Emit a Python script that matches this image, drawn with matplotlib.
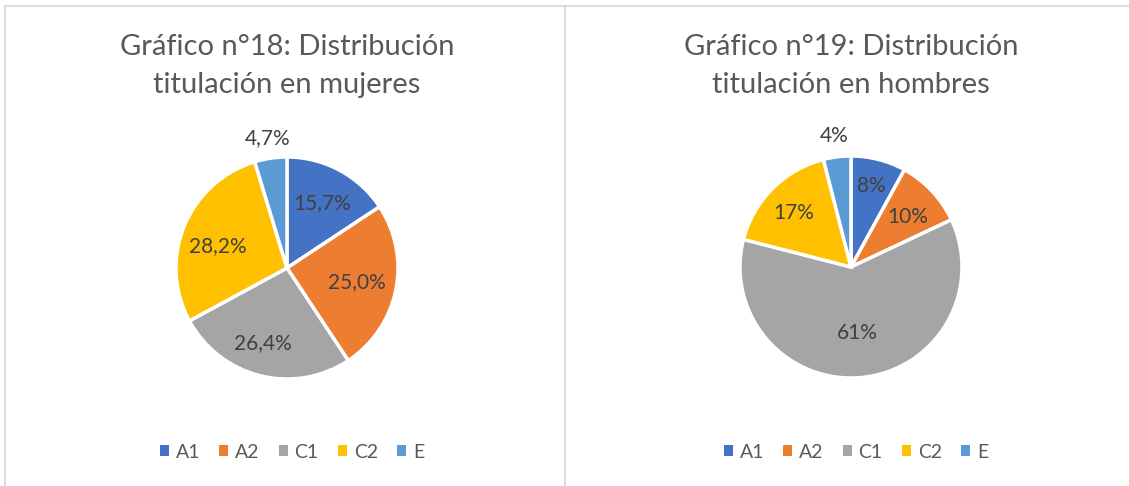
import matplotlib
matplotlib.use("Agg")
import matplotlib.pyplot as plt
from matplotlib.patches import Patch
from matplotlib.lines import Line2D
import numpy as np

categories = ["A1", "A2", "C1", "C2", "E"]
mujeres = [15.7, 25.0, 26.4, 28.2, 4.7]
hombres = [8, 10, 61, 17, 4]
mujeres_labels = ["15,7%", "25,0%", "26,4%", "28,2%", "4,7%"]
hombres_labels = ["8%", "10%", "61%", "17%", "4%"]
title_left = ["Gráfico n°18: Distribución", "titulación en mujeres"]
title_right = ["Gráfico n°19: Distribución", "titulación en hombres"]

colors = ["#4472C4", "#ED7D31", "#A5A5A5", "#FFC000", "#5B9BD5"]
TEXT = "#595959"
LABEL = "#404040"
FONT = "Lato"

W, H = 1129, 486
fig = plt.figure(figsize=(W / 100, H / 100), dpi=100)
fig.patch.set_facecolor("white")

def px(x, y):
    return x / W, 1 - y / H

# borders
bc = "#D9D9D9"
for (x0, y0, x1, y1) in [(5, 6, 1129, 6), (5, 6, 5, 486), (565, 6, 565, 486)]:
    a, b = px(x0, y0)
    c, d = px(x1, y1)
    fig.add_artist(Line2D([a, c], [b, d], color=bc, lw=1.3))

def draw(cx, cy, r, values, labels, dists, shifts, title, legx):
    ext = 1.35
    size = 2 * r * ext
    ax = fig.add_axes([(cx - size / 2) / W, 1 - (cy + size / 2) / H, size / W, size / H])
    wedges, _ = ax.pie(values, colors=colors, startangle=90, counterclock=False,
                       wedgeprops=dict(edgecolor="white", linewidth=2.5))
    ax.set_xlim(-ext, ext)
    ax.set_ylim(-ext, ext)
    ax.set_aspect("equal")
    ax.axis("off")
    for w, lab, d, s in zip(wedges, labels, dists, shifts):
        ang = np.deg2rad((w.theta1 + w.theta2) / 2 + s)
        ax.text(d * np.cos(ang), d * np.sin(ang), lab, ha="center", va="center",
                fontsize=15, color=LABEL, family=FONT)
    tx = px(legx, 0)[0]
    fig.text(px(cx, 0)[0], px(0, 47)[1], title[0], ha="center", va="center",
             fontsize=21, color=TEXT, family=FONT)
    fig.text(px(cx, 0)[0], px(0, 85)[1], title[1], ha="center", va="center",
             fontsize=21, color=TEXT, family=FONT)
    handles = [Patch(facecolor=c, edgecolor="none") for c in colors]
    fig.legend(handles, categories, loc="center", bbox_to_anchor=(tx, px(0, 452)[1]),
               ncol=5, frameon=False, handlelength=0.45, handleheight=0.45,
               handletextpad=0.35, columnspacing=1.0,
               prop=dict(family=FONT, size=14), labelcolor=TEXT)

draw(287, 268, 111, mujeres, mujeres_labels,
     [0.66, 0.64, 0.71, 0.65, 1.18], [0, 0, -4, 5, 0],
     title_left, 292)
draw(851, 267, 111, hombres, hombres_labels,
     [0.75, 0.68, 0.6, 0.71, 1.19], [0, -2, 0, 2, 0],
     title_right, 856)

fig.savefig("out.png", dpi=100)
